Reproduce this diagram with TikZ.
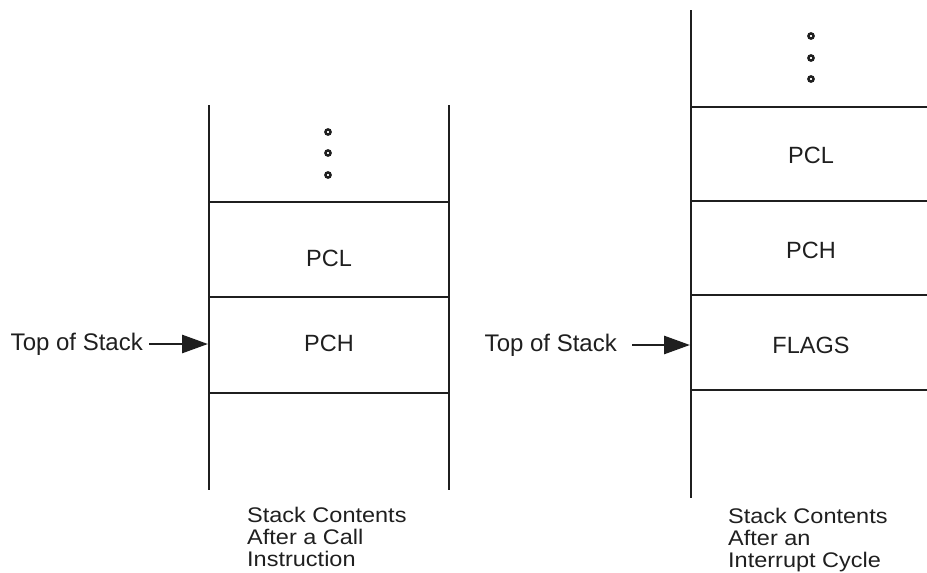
\documentclass[tikz,border=0pt]{standalone}
\usepackage{fontspec}
\setmainfont{Liberation Sans}
\usetikzlibrary{arrows.meta}
\newcommand{\capsq}[1]{\scalebox{1}[0.9]{\begin{tabular}{@{}l@{}}#1\end{tabular}}}
\begin{document}
\begin{tikzpicture}[x=1pt,y=-1pt,
  wall/.style={line width=2.8pt, color=black!88},
  lbl/.style={font=\fontsize{23.5}{25}\selectfont, inner sep=0pt, text=black!88},
  captxt/.style={font=\fontsize{23.5}{24}\selectfont, inner sep=0pt, anchor=north west, text=black!88},
  dotc/.style={line width=2.4pt, draw=black!88},
  arr/.style={line width=2.8pt, color=black!88, -{Triangle[length=26pt,width=18pt]}}]
\useasboundingbox (0,0) rectangle (927,573);
% ---- left stack
\draw[wall] (209,105) -- (209,490);
\draw[wall] (449,105) -- (449,490);
\draw[wall] (209,202) -- (449,202);
\draw[wall] (209,297) -- (449,297);
\draw[wall] (209,393) -- (449,393);
\draw[dotc] (328,132) circle (2.6);
\draw[dotc] (328,153) circle (2.6);
\draw[dotc] (328,175) circle (2.6);
\node[lbl] (pclL) at (329,258) {PCL};
\node[lbl] (pchL) at (329,343) {PCH};
\node[lbl, anchor=east, font=\fontsize{24}{25}\selectfont] (tosL) at (143,344) {Top of Stack};
\coordinate (pL) at (208,344);
\draw[arr, shorten <=6pt] (tosL.east) -- (pL);
\node[captxt] (capL) at (247,507) {\capsq{Stack Contents\\After a Call\\Instruction}};
% ---- right stack
\draw[wall] (691,10) -- (691,498);
\draw[wall] (691,107) -- (930,107);
\draw[wall] (691,201) -- (930,201);
\draw[wall] (691,295) -- (930,295);
\draw[wall] (691,390) -- (930,390);
\draw[dotc] (811,36) circle (2.6);
\draw[dotc] (811,58) circle (2.6);
\draw[dotc] (811,79) circle (2.6);
\node[lbl] (pclR) at (811,155) {PCL};
\node[lbl] (pchR) at (811,250) {PCH};
\node[lbl] (flagsR) at (811,345) {FLAGS};
\node[lbl, anchor=east, font=\fontsize{24}{25}\selectfont] (tosR) at (617,345) {Top of Stack};
\coordinate (pR) at (690,345);
\draw[arr, shorten <=15pt] (tosR.east) -- (pR);
\node[captxt] (capR) at (728,508) {\capsq{Stack Contents\\After an\\Interrupt Cycle}};
\end{tikzpicture}
\end{document}
